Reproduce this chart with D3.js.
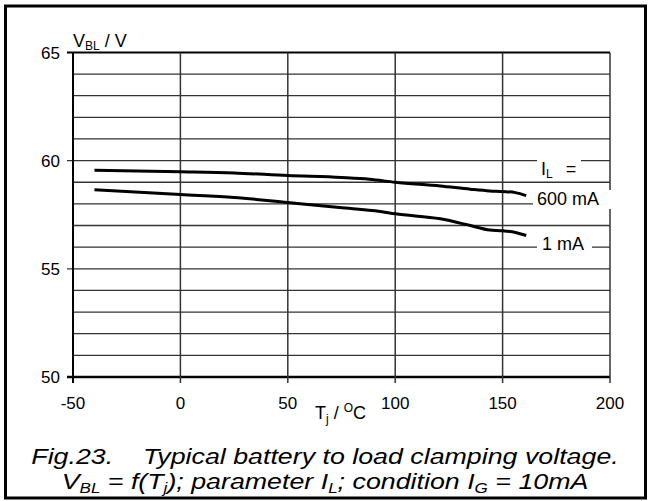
<!DOCTYPE html>
<html><head><meta charset="utf-8">
<script src="https://cdn.jsdelivr.net/npm/d3@7"></script>
<style>body{margin:0;background:#fff}svg{display:block;font-family:"Liberation Sans",Arial,sans-serif}</style>
</head><body><svg id="c" width="650" height="501"></svg>
<script>
const xTicks = [-50, 0, 50, 100, 150, 200];
const yTicks = [50, 55, 60, 65];
const yGrid = d3.range(50, 66, 1);
const seriesNames = ["600 mA", "1 mA"];
const temp600 = [-40, 0, 25, 50, 75, 88, 100, 121, 135, 144, 150, 156, 161];
const volt600 = [59.56, 59.49, 59.43, 59.31, 59.22, 59.14, 59.0, 58.83, 58.68, 58.6, 58.57, 58.52, 58.38];
const temp1 = [-40, 0, 25, 50, 74, 93, 100, 121, 135, 144, 150, 156, 161];
const volt1 = [58.65, 58.43, 58.3, 58.06, 57.83, 57.65, 57.54, 57.31, 57.0, 56.79, 56.76, 56.68, 56.54];

const svg = d3.select("#c");
const x = d3.scaleLinear().domain([-50, 200]).range([73, 610]);
const y = d3.scaleLinear().domain([50, 65]).range([377, 52.4]);

// outer frame
svg.append("rect").attr("x", 5.5).attr("y", 6).attr("width", 640).attr("height", 492)
  .attr("fill", "none").attr("stroke", "#000").attr("stroke-width", 3);

const g = svg.append("g");
// horizontal grid
g.selectAll("line.h").data(yGrid).join("line")
  .attr("x1", d => yTicks.includes(d) ? 67 : x(-50)).attr("x2", x(200))
  .attr("y1", d => y(d)).attr("y2", d => y(d))
  .attr("stroke", d => (d === 50 || d === 65) ? "#000" : "#333")
  .attr("stroke-width", d => d === 50 ? 2.5 : (d === 65 ? 2 : 1.3));
// vertical grid
g.selectAll("line.v").data(xTicks).join("line")
  .attr("x1", d => x(d)).attr("x2", d => x(d))
  .attr("y1", y(65)).attr("y2", y(50) + 6)
  .attr("stroke", d => d === -50 ? "#000" : "#333")
  .attr("stroke-width", d => d === -50 ? 2 : 1.5);

// tick labels
g.selectAll("text.y").data(yTicks).join("text")
  .attr("x", 60).attr("y", d => y(d)).attr("dy", "0.36em")
  .attr("text-anchor", "end").attr("font-size", 17).text(d => d);
g.selectAll("text.x").data(xTicks).join("text")
  .attr("x", d => x(d)).attr("y", 409)
  .attr("text-anchor", "middle").attr("font-size", 17).text(d => d);

// axis titles
const yt = svg.append("text").attr("x", 73).attr("y", 47).attr("font-size", 18);
yt.append("tspan").text("V");
yt.append("tspan").attr("font-size", 12).attr("dy", 3).text("BL");
yt.append("tspan").attr("dy", -3).text(" / V");
const xt = svg.append("text").attr("x", 315).attr("y", 419).attr("font-size", 18);
xt.append("tspan").text("T");
xt.append("tspan").attr("font-size", 12).attr("dy", 4).text("j");
xt.append("tspan").attr("dy", -4).text(" / ");
xt.append("tspan").attr("font-size", 12).attr("dy", -7).text("O");
xt.append("tspan").attr("dy", 7).text("C");

// curves
const line = d3.line().x(d => x(d[0])).y(d => y(d[1])).curve(d3.curveMonotoneX);
const series = [d3.zip(temp600, volt600), d3.zip(temp1, volt1)];
svg.selectAll("path.s").data(series).join("path")
  .attr("d", line).attr("fill", "none").attr("stroke", "#000").attr("stroke-width", 3);

// legend labels with white background
const legend = [
  {x: 537, y: 175, w: 44},
  {x: 533, y: 205, w: 79},
  {x: 537, y: 250, w: 55}
];
legend.forEach(L => {
  svg.append("rect").attr("x", L.x).attr("y", L.y - 15).attr("width", L.w).attr("height", 19).attr("fill", "#fff");
});
const l0 = svg.append("text").attr("x", 541).attr("y", 175).attr("font-size", 18);
l0.append("tspan").text("I");
l0.append("tspan").attr("font-size", 12).attr("dy", 3).text("L");
l0.append("tspan").attr("dy", -3).attr("dx", 13).text("=");
svg.append("text").attr("x", 537).attr("y", 205).attr("font-size", 18).text(seriesNames[0]);
svg.append("text").attr("x", 542).attr("y", 250).attr("font-size", 18).text(seriesNames[1]);

// caption (horizontally stretched like the original)
const cap = svg.append("g").attr("font-style", "italic").attr("font-size", 22)
  .attr("transform", "translate(325,0) scale(1.218,1)");
cap.append("text").attr("x", 0).attr("y", 464).attr("text-anchor", "middle")
  .attr("xml:space", "preserve").text("Fig.23.    Typical battery to load clamping voltage.");
const c2 = cap.append("text").attr("x", 0).attr("y", 489.5).attr("text-anchor", "middle");
c2.append("tspan").text("V");
c2.append("tspan").attr("font-size", 14).attr("dy", 3.5).text("BL");
c2.append("tspan").attr("dy", -3.5).text(" = f(T");
c2.append("tspan").attr("font-size", 14).attr("dy", 3.5).text("j");
c2.append("tspan").attr("dy", -3.5).text("); parameter I");
c2.append("tspan").attr("font-size", 14).attr("dy", 3.5).text("L");
c2.append("tspan").attr("dy", -3.5).text("; condition I");
c2.append("tspan").attr("font-size", 14).attr("dy", 3.5).text("G");
c2.append("tspan").attr("dy", -3.5).text(" = 10mA");
</script></body></html>
